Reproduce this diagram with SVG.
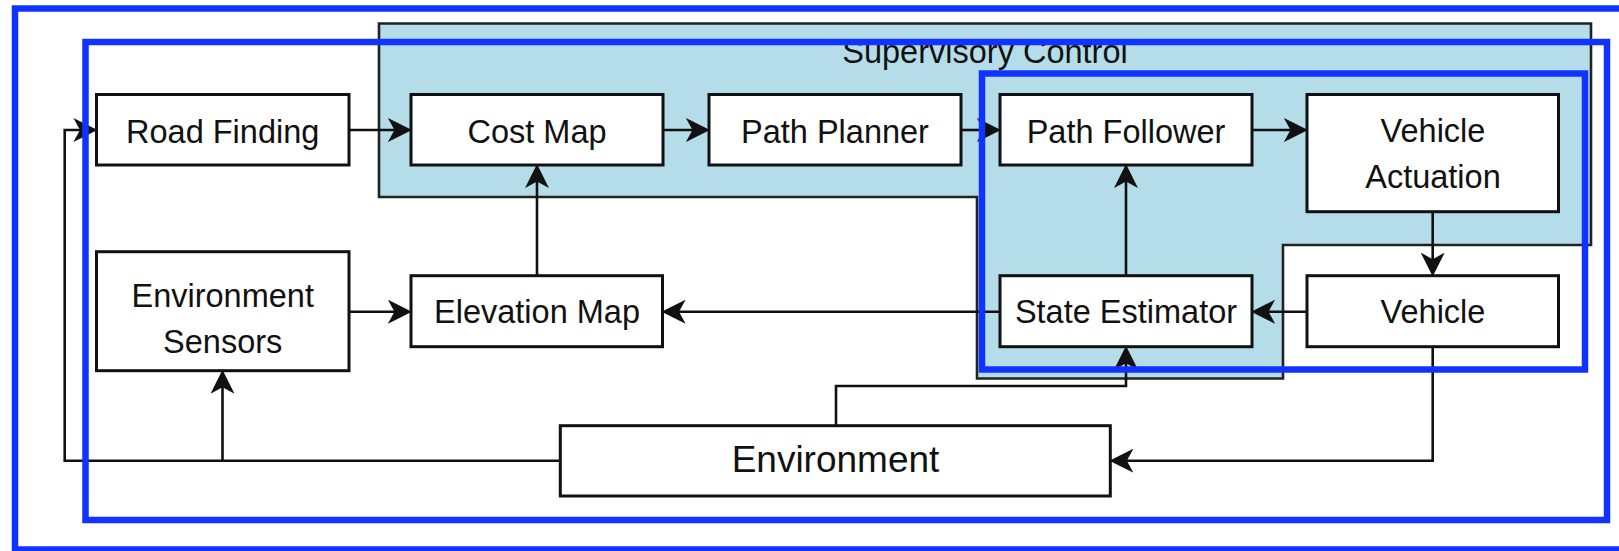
<svg xmlns="http://www.w3.org/2000/svg" width="1619" height="551" viewBox="0 0 1619 551">
  <style>
    .node rect { fill: #ffffff; stroke: #111111; stroke-width: 3; }
    .label { font-family: "Liberation Sans", Arial, sans-serif; font-size: 32.5px; fill: #111111; text-anchor: middle; }
    .big { font-size: 37px; }
    .wire { fill: none; stroke: #111111; stroke-width: 2.6; }
    .frame { fill: none; stroke: #1133ff; stroke-width: 6.5; }
  </style>
  <defs>
    <marker id="arrow" markerUnits="userSpaceOnUse" markerWidth="24" markerHeight="24" viewBox="0 0 22 22" refX="12" refY="11" orient="auto">
      <path d="M0,0 L22,11 L0,22 L6,11 Z" fill="#111111"/>
    </marker>
  </defs>

  <rect width="1619" height="551" fill="#ffffff"/>

  <!-- Supervisory control region -->
  <g id="supervisory-control">
    <path d="M379,23.5 H1591 V245 H1283 V378.5 H977 V197 H379 Z" fill="#b5dde9" stroke="#222222" stroke-width="2.6"/>
    <text class="label" x="985" y="63" font-size="33">Supervisory Control</text>
  </g>

  <!-- Connectors -->
  <g id="connectors">
    <path class="wire" d="M349,130 H401" marker-end="url(#arrow)"/>
    <path class="wire" d="M663,130 H699" marker-end="url(#arrow)"/>
    <path class="wire" d="M961,130 H990" marker-end="url(#arrow)"/>
    <path class="wire" d="M1252,130 H1297" marker-end="url(#arrow)"/>
    <path class="wire" d="M1432.7,211.7 V265.7" marker-end="url(#arrow)"/>
    <path class="wire" d="M1307,311.7 H1262" marker-end="url(#arrow)"/>
    <path class="wire" d="M1000,311.7 H672.5" marker-end="url(#arrow)"/>
    <path class="wire" d="M349,311.7 H401" marker-end="url(#arrow)"/>
    <path class="wire" d="M537,275.7 V175" marker-end="url(#arrow)"/>
    <path class="wire" d="M1126,275.7 V175" marker-end="url(#arrow)"/>
    <path class="wire" d="M836,425.7 V386 H1126 V356.7" marker-end="url(#arrow)"/>
    <path class="wire" d="M1432.7,346.7 V460.7 H1120.3" marker-end="url(#arrow)"/>
    <path class="wire" d="M560.3,460.7 H64.7 V130 H86.5" marker-end="url(#arrow)"/>
    <path class="wire" d="M222.5,460.7 V380.7" marker-end="url(#arrow)"/>
  </g>

  <!-- Nodes -->
  <g id="road-finding" class="node">
    <rect x="96.5" y="94.5" width="252.5" height="70.5"/>
    <text class="label" x="222.7" y="142.5">Road Finding</text>
  </g>
  <g id="cost-map" class="node">
    <rect x="411" y="94.5" width="252" height="70.5"/>
    <text class="label" x="537" y="142.5">Cost Map</text>
  </g>
  <g id="path-planner" class="node">
    <rect x="709" y="94.5" width="252" height="70.5"/>
    <text class="label" x="835" y="142.5">Path Planner</text>
  </g>
  <g id="path-follower" class="node">
    <rect x="1000" y="94.5" width="252" height="70.5"/>
    <text class="label" x="1126" y="142.5">Path Follower</text>
  </g>
  <g id="vehicle-actuation" class="node">
    <rect x="1307" y="94.5" width="251.5" height="117.2"/>
    <text class="label" x="1433" y="141.7">Vehicle</text>
    <text class="label" x="1433" y="188.3">Actuation</text>
  </g>
  <g id="environment-sensors" class="node">
    <rect x="96.5" y="251.7" width="252.5" height="119"/>
    <text class="label" x="222.7" y="307.3">Environment</text>
    <text class="label" x="222.7" y="353.3">Sensors</text>
  </g>
  <g id="elevation-map" class="node">
    <rect x="411" y="275.7" width="251.5" height="71"/>
    <text class="label" x="537" y="323.3">Elevation Map</text>
  </g>
  <g id="state-estimator" class="node">
    <rect x="1000" y="275.7" width="252" height="71"/>
    <text class="label" x="1126" y="323.3">State Estimator</text>
  </g>
  <g id="vehicle" class="node">
    <rect x="1307" y="275.7" width="251.5" height="71"/>
    <text class="label" x="1433" y="323.3">Vehicle</text>
  </g>
  <g id="environment" class="node">
    <rect x="560.3" y="425.7" width="550" height="70.3"/>
    <text class="label big" x="835.5" y="472">Environment</text>
  </g>

  <!-- Highlight frames -->
  <g id="frames">
    <rect class="frame" x="15" y="8.5" width="1620" height="541"/>
    <rect class="frame" x="85.5" y="42" width="1521.5" height="478"/>
    <rect class="frame" x="982" y="73.5" width="603" height="296"/>
  </g>
</svg>
